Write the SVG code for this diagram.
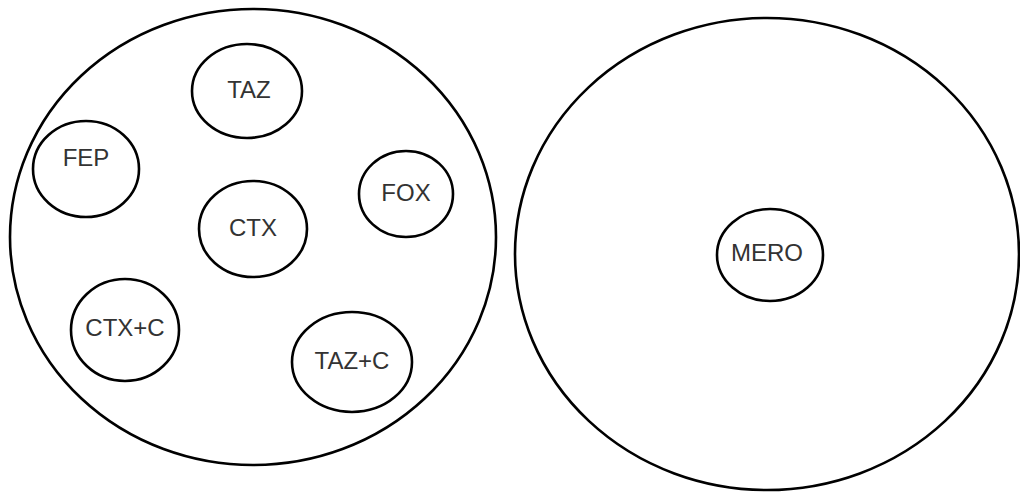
<svg xmlns="http://www.w3.org/2000/svg" width="1020" height="494" viewBox="0 0 1020 494">
<style>
.big{fill:none;stroke:#000;stroke-width:2.6}
.node ellipse{fill:#fff;stroke:#000;stroke-width:2.6}
.node text{font-family:"Liberation Sans",Arial,sans-serif;font-size:24px;fill:#333;text-anchor:middle}
</style>
<rect width="1020" height="494" fill="#fff"/>
<g id="groupA"><ellipse class="big" cx="253" cy="237" rx="243" ry="228"/></g>
<g id="groupB"><ellipse class="big" cx="767" cy="254" rx="252" ry="236"/></g>
<g id="connectors"></g>
<g id="TAZ" class="node"><ellipse cx="247" cy="91" rx="55" ry="47"/><text x="249" y="98">TAZ</text></g>
<g id="FEP" class="node"><ellipse cx="86" cy="169" rx="53" ry="48"/><text x="86" y="166">FEP</text></g>
<g id="FOX" class="node"><ellipse cx="406" cy="194" rx="47" ry="43"/><text x="406" y="201">FOX</text></g>
<g id="CTX" class="node"><ellipse cx="253" cy="229" rx="54" ry="48"/><text x="253" y="236">CTX</text></g>
<g id="CTXC" class="node"><ellipse cx="125" cy="330" rx="54" ry="51"/><text x="125" y="336">CTX+C</text></g>
<g id="TAZC" class="node"><ellipse cx="352" cy="362" rx="60" ry="50"/><text x="352" y="369">TAZ+C</text></g>
<g id="MERO" class="node"><ellipse cx="770" cy="255" rx="53" ry="46"/><text x="767" y="261">MERO</text></g>
</svg>
